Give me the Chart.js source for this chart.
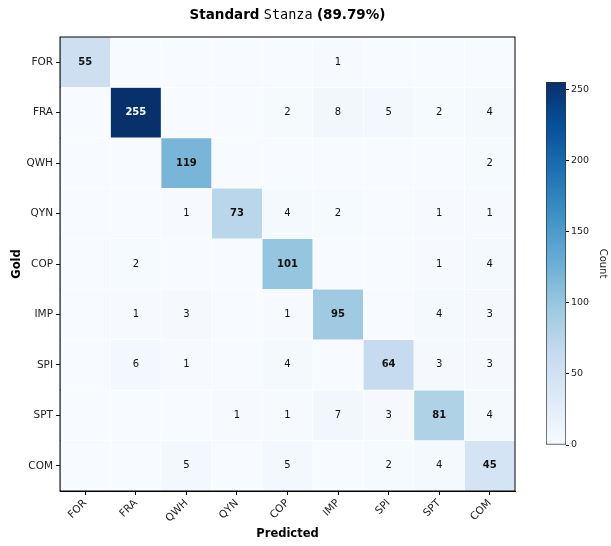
<!DOCTYPE html>
<html>
<head>
<meta charset="utf-8">
<script src="https://cdn.jsdelivr.net/npm/chart.js@4/dist/chart.umd.min.js"></script>
<style>
  html, body { margin: 0; padding: 0; background: #fff; }
  #wrap { position: relative; width: 611px; height: 546px; font-family: "DejaVu Sans", sans-serif; }
  #title { position: absolute; left: 0; top: 6px; width: 575px; text-align: center; font-size: 13.5px; color: #000; line-height: 16px; }
  #title .mono { font-family: "DejaVu Sans Mono", monospace; }
  #main { position: absolute; left: 0; top: 0; }
  #cbar { position: absolute; left: 530px; top: 70px; }
</style>
</head>
<body>
<div id="wrap">
  <canvas id="main" width="611" height="546"></canvas>
  <canvas id="cbar" width="81" height="390"></canvas>
  <div id="title"><b>Standard</b> <span class="mono">Stanza</span> <b>(89.79%)</b></div>
</div>
<script>
// labels
const predictedLabels = ['FOR', 'FRA', 'QWH', 'QYN', 'COP', 'IMP', 'SPI', 'SPT', 'COM'];
const goldLabels = ['FOR', 'FRA', 'QWH', 'QYN', 'COP', 'IMP', 'SPI', 'SPT', 'COM'];

// one row per gold class, columns follow predictedLabels
const rowFOR = [55, 0, 0, 0, 0, 1, 0, 0, 0];
const rowFRA = [0, 255, 0, 0, 2, 8, 5, 2, 4];
const rowQWH = [0, 0, 119, 0, 0, 0, 0, 0, 2];
const rowQYN = [0, 0, 1, 73, 4, 2, 0, 1, 1];
const rowCOP = [0, 2, 0, 0, 101, 0, 0, 1, 4];
const rowIMP = [0, 1, 3, 0, 1, 95, 0, 4, 3];
const rowSPI = [0, 6, 1, 0, 4, 0, 64, 3, 3];
const rowSPT = [0, 0, 0, 1, 1, 7, 3, 81, 4];
const rowCOM = [0, 0, 5, 0, 5, 0, 2, 4, 45];
const matrix = [rowFOR, rowFRA, rowQWH, rowQYN, rowCOP, rowIMP, rowSPI, rowSPT, rowCOM];

const colorbarTicks = [0, 50, 100, 150, 200, 250];
const vmax = 255;

// matplotlib "Blues"
const bluesStops = [
  [247, 251, 255], [222, 235, 247], [198, 219, 239], [158, 202, 225], [107, 174, 214],
  [66, 146, 198], [33, 113, 181], [8, 81, 156], [8, 48, 107]
];

function blues(t) {
  t = Math.max(0, Math.min(1, t));
  const pos = t * (bluesStops.length - 1);
  const i = Math.min(Math.floor(pos), bluesStops.length - 2);
  const f = pos - i;
  const a = bluesStops[i], b = bluesStops[i + 1];
  const c = a.map((v, k) => Math.round(v + (b[k] - v) * f));
  return 'rgb(' + c.join(',') + ')';
}

const FONT = 'DejaVu Sans';

const datasets = matrix.map((row, r) => ({
  label: goldLabels[r],
  data: row.map(() => [r, r + 1]),
  counts: row,
  backgroundColor: row.map(v => blues(v / vmax)),
  borderColor: 'rgba(255,255,255,0.2)',
  borderWidth: 0.6,
  borderSkipped: false,
  grouped: false,
  categoryPercentage: 1,
  barPercentage: 1
}));

// writes the count in every non-empty cell
const cellText = {
  id: 'cellText',
  afterDatasetsDraw(chart) {
    const ctx = chart.ctx;
    ctx.save();
    ctx.textAlign = 'center';
    ctx.textBaseline = 'middle';
    chart.data.datasets.forEach((ds, r) => {
      chart.getDatasetMeta(r).data.forEach((el, c) => {
        const v = ds.counts[c];
        if (!v) return;
        ctx.font = (r === c ? 'bold ' : '') + '10px "' + FONT + '"';
        ctx.fillStyle = v > vmax / 2 ? '#fff' : '#111';
        ctx.fillText(String(v), el.x, (el.y + el.base) / 2);
      });
    });
    ctx.restore();
  }
};

const frame = {
  id: 'frame',
  afterDraw(chart) {
    const a = chart.chartArea;
    const ctx = chart.ctx;
    ctx.save();
    ctx.strokeStyle = '#000';
    ctx.lineWidth = 1;
    ctx.strokeRect(a.left, a.top, a.right - a.left, a.bottom - a.top);
    ctx.restore();
  }
};

new Chart(document.getElementById('main'), {
  type: 'bar',
  data: { labels: predictedLabels, datasets: datasets },
  options: {
    responsive: false,
    animation: false,
    layout: { padding: { top: 37, right: 96, bottom: 0, left: 0 } },
    plugins: { legend: { display: false }, tooltip: { enabled: false } },
    scales: {
      x: {
        afterFit(scale) { scale.height = 55; },
        grid: { offset: false, drawOnChartArea: false, drawTicks: true, tickLength: 4, color: '#000' },
        border: { display: true, color: '#000' },
        ticks: {
          color: '#222', font: { family: FONT, size: 10.5 },
          maxRotation: 45, minRotation: 45, padding: 2
        },
        title: {
          display: true, text: 'Predicted', color: '#000',
          font: { family: FONT, size: 11.5, weight: 'bold' }, padding: { top: 0, bottom: 5 }
        }
      },
      y: {
        min: 0, max: 9, reverse: true,
        afterFit(scale) { scale.width = 60; },
        afterBuildTicks(scale) { scale.ticks = goldLabels.map((_, i) => ({ value: i + 0.5 })); },
        grid: { drawOnChartArea: false, drawTicks: true, tickLength: 4, color: '#000' },
        border: { display: true, color: '#000' },
        ticks: {
          color: '#222', font: { family: FONT, size: 10.5 }, padding: 3,
          callback: (v, i) => goldLabels[i]
        },
        title: {
          display: true, text: 'Gold', color: '#000',
          font: { family: FONT, size: 11.5, weight: 'bold' }, padding: { top: 10, bottom: 0 }
        }
      }
    }
  },
  plugins: [cellText, frame]
});

// colour bar
new Chart(document.getElementById('cbar'), {
  type: 'bar',
  data: {
    labels: ['Count'],
    datasets: [{
      data: [[0, vmax]],
      backgroundColor(ctx) {
        const a = ctx.chart.chartArea;
        if (!a) return blues(0);
        const g = ctx.chart.ctx.createLinearGradient(0, a.bottom, 0, a.top);
        bluesStops.forEach((s, i) => g.addColorStop(i / (bluesStops.length - 1), 'rgb(' + s.join(',') + ')'));
        return g;
      },
      borderColor: '#333',
      borderWidth: 1,
      borderSkipped: false,
      categoryPercentage: 1,
      barPercentage: 1
    }]
  },
  options: {
    responsive: false,
    animation: false,
    layout: { padding: { top: 12, left: 16, bottom: 15, right: 0 } },
    plugins: { legend: { display: false }, tooltip: { enabled: false } },
    scales: {
      x: { display: false },
      y: {
        position: 'right',
        min: 0, max: vmax,
        afterFit(scale) { scale.width = 45; },
        afterBuildTicks(scale) { scale.ticks = colorbarTicks.map(v => ({ value: v })); },
        grid: { drawOnChartArea: false, drawTicks: true, tickLength: 3, color: '#000' },
        border: { display: false },
        ticks: { color: '#222', font: { family: FONT, size: 9.5 }, padding: 2 },
        title: {
          display: true, text: 'Count', color: '#222',
          font: { family: FONT, size: 10 }, padding: { top: 2, bottom: 0 }
        }
      }
    }
  }
});
</script>
</body>
</html>
